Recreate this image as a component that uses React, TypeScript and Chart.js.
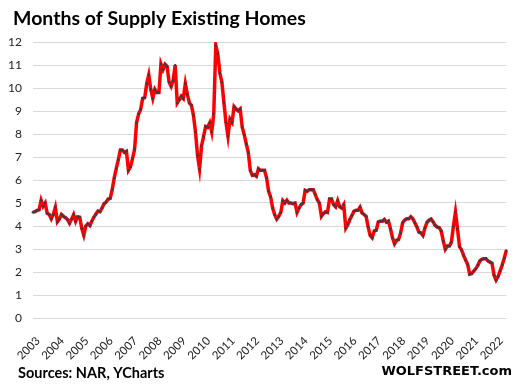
import React, { useEffect, useRef } from 'react';
import { Chart, registerables } from 'chart.js';

Chart.register(...registerables);

const years = ['2003', '2004', '2005', '2006', '2007', '2008', '2009', '2010', '2011', '2012', '2013', '2014', '2015', '2016', '2017', '2018', '2019', '2020', '2021', '2022'];

const supply2003 = [4.6, 4.62, 4.68, 4.7, 5.12, 4.86, 5.0, 4.55, 4.5, 4.31, 4.5, 4.81];
const supply2004 = [4.18, 4.3, 4.5, 4.42, 4.36, 4.28, 4.12, 4.3, 4.5, 4.2, 4.4, 4.38];
const supply2005 = [3.9, 3.6, 4.0, 4.1, 4.02, 4.22, 4.39, 4.52, 4.65, 4.62, 4.78, 4.97];
const supply2006 = [5.04, 5.17, 5.2, 5.58, 6.09, 6.5, 6.88, 7.3, 7.3, 7.2, 7.25, 6.42];
const supply2007 = [6.57, 6.93, 7.33, 8.5, 8.87, 9.07, 9.55, 9.58, 10.19, 10.57, 9.94, 9.55];
const supply2008 = [9.94, 9.8, 9.8, 11.04, 10.8, 11.03, 10.94, 10.26, 10.07, 10.33, 10.99, 9.35];
const supply2009 = [9.49, 9.64, 9.54, 10.19, 9.72, 9.35, 9.25, 8.81, 8.09, 7.07, 6.48, 7.49];
const supply2010 = [7.9, 8.33, 8.29, 8.48, 8.09, 8.88, 11.85, 11.48, 10.65, 10.25, 9.37, 8.51];
const supply2011 = [7.9, 8.65, 8.51, 9.19, 9.09, 9.01, 9.09, 8.3, 7.97, 7.57, 7.2, 6.41];
const supply2012 = [6.2, 6.23, 6.16, 6.49, 6.42, 6.42, 6.42, 6.09, 5.51, 5.26, 4.78, 4.49];
const supply2013 = [4.3, 4.42, 4.59, 5.1, 5.0, 5.12, 5.0, 5.0, 4.97, 5.0, 4.59, 4.78];
const supply2014 = [4.93, 5.0, 5.55, 5.51, 5.58, 5.58, 5.58, 5.36, 5.14, 5.0, 4.42, 4.54];
const supply2015 = [4.62, 4.59, 5.17, 5.17, 4.93, 4.83, 5.1, 4.83, 4.78, 4.93, 3.91, 4.06];
const supply2016 = [4.28, 4.45, 4.64, 4.68, 4.68, 4.82, 4.57, 4.5, 4.42, 3.96, 3.59, 3.49];
const supply2017 = [3.78, 3.82, 4.18, 4.21, 4.21, 4.28, 4.16, 4.21, 3.88, 3.49, 3.23, 3.38];
const supply2018 = [3.41, 3.7, 4.14, 4.26, 4.31, 4.31, 4.4, 4.31, 4.14, 3.96, 3.73, 3.7];
const supply2019 = [3.59, 3.92, 4.16, 4.25, 4.3, 4.18, 4.03, 3.95, 3.93, 3.78, 3.35, 2.99];
const supply2020 = [3.13, 3.13, 3.3, 4.0, 4.61, 3.88, 3.1, 2.96, 2.72, 2.52, 2.33, 1.9];
const supply2021 = [1.93, 2.04, 2.14, 2.29, 2.48, 2.55, 2.58, 2.58, 2.48, 2.43, 2.38, 1.86];
const supply2022 = [1.65, 1.8, 2.05, 2.3, 2.6, 2.93];

const supplyByYear = [
  supply2003, supply2004, supply2005, supply2006, supply2007, supply2008, supply2009,
  supply2010, supply2011, supply2012, supply2013, supply2014, supply2015, supply2016,
  supply2017, supply2018, supply2019, supply2020, supply2021, supply2022,
];

const TITLE = 'Months of Supply Existing Homes';
const SOURCE = 'Sources: NAR, YCharts';
const BRAND = 'WOLFSTREET.com';

const labels: string[] = [];
const values: number[] = [];
supplyByYear.forEach((arr, k) => {
  arr.forEach((v, m) => {
    labels.push(`${years[k]}-${String(m + 1).padStart(2, '0')}`);
    values.push(v);
  });
});

const FONT = 'Lato';

const textPlugin = {
  id: 'textPlugin',
  afterDraw(chart: any) {
    const ctx = chart.ctx as CanvasRenderingContext2D;
    ctx.save();
    ctx.fillStyle = '#000';
    ctx.textBaseline = 'alphabetic';
    ctx.textAlign = 'left';
    ctx.font = `bold 19.5px ${FONT}`;
    ctx.fillText(TITLE, 13, 25);
    ctx.font = `bold 14.5px ${FONT}`;
    ctx.fillText(SOURCE, 18, 378);
    ctx.textAlign = 'right';
    ctx.font = `bold 13px "DejaVu Sans"`;
    ctx.fillText(BRAND, 512, 375);
    ctx.restore();
  },
};

export default function App() {
  const ref = useRef<HTMLCanvasElement | null>(null);
  useEffect(() => {
    if (!ref.current) return;
    const chart = new Chart(ref.current, {
      type: 'line',
      data: {
        labels,
        datasets: [
          {
            data: values,
            borderColor: '#ff0000',
            borderWidth: 3.5,
            pointRadius: 1.3,
            pointBackgroundColor: '#3a3a48',
            pointBorderWidth: 0,
            tension: 0,
          },
        ],
      },
      options: {
        animation: false,
        responsive: false,
        devicePixelRatio: 1,
        layout: { padding: { top: 42, right: 6, left: 0, bottom: 0 } },
        plugins: { legend: { display: false }, tooltip: { enabled: false }, title: { display: false } },
        scales: {
          x: {
            type: 'category',
            offset: false,
            grid: { display: false },
            border: { display: false },
            ticks: {
              autoSkip: false,
              maxRotation: 45,
              minRotation: 45,
              padding: 8,
              labelOffset: 5,
              color: '#222',
              font: { family: FONT, size: 11.5 },
              callback: (_v: any, i: number) => (i % 12 === 0 ? labels[i].slice(0, 4) : ''),
            },
            afterFit: (s: any) => { s.height = 71; },
          },
          y: {
            min: 0,
            max: 12,
            ticks: { stepSize: 1, padding: 11, color: '#222', font: { family: FONT, size: 12 } },
            grid: { color: '#d9d9d9', drawTicks: false },
            border: { display: false },
            afterFit: (s: any) => { s.width = 33; },
          },
        },
      },
      plugins: [textPlugin],
    });
    return () => chart.destroy();
  }, []);
  return (
    <div style={{ position: 'fixed', left: 0, top: 0, width: 524, height: 389, background: '#fff' }}>
      <canvas ref={ref} width={524} height={389} style={{ display: 'block' }} />
    </div>
  );
}
